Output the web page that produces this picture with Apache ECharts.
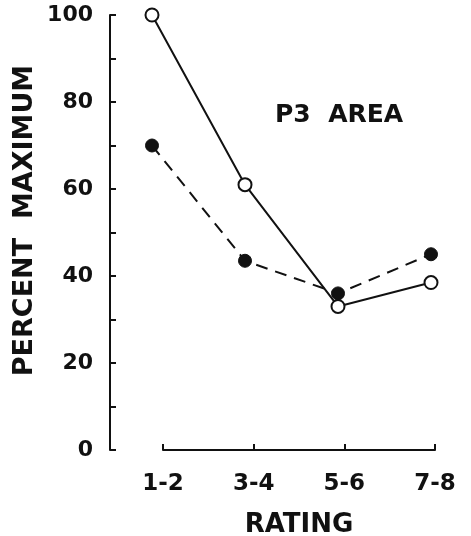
<!DOCTYPE html>
<html>
<head>
<meta charset="utf-8">
<script src="https://cdn.jsdelivr.net/npm/echarts@6/dist/echarts.min.js"></script>
<style>
  html, body { margin: 0; padding: 0; background: #fff; }
  #chart { width: 471px; height: 536px; }
</style>
</head>
<body>
<div id="chart"></div>
<script>
// rating groups on the x axis
const ratings = ['1-2', '3-4', '5-6', '7-8']
// open circles, solid line
const openValues = [100, 61, 33, 38.5]
// filled circles, dashed line
const filledValues = [70, 43.5, 36, 45]
const yTicks = [0, 20, 40, 60, 80, 100]

const font = 'DejaVu Sans'
const ink = '#111'
const chart = echarts.init(document.getElementById('chart'))

const option = {
  backgroundColor: '#fff',
  animation: false,
  title: {
    text: 'P3  AREA',
    left: 270,
    top: 98,
    textStyle: { fontFamily: font, fontWeight: 'bold', fontSize: 25, color: ink }
  },
  // grid 0 holds the data, grid 1 only the drawn rating axis (it sits a bit to the right in the original)
  grid: [
    { left: 152, right: 40, top: 15, bottom: 86, outerBoundsMode: 'none' },
    { left: 163, right: 36, top: 15, bottom: 86, outerBoundsMode: 'none' }
  ],
  xAxis: [
    {
      type: 'category',
      gridIndex: 0,
      boundaryGap: false,
      data: ratings,
      show: false
    },
    {
      type: 'category',
      gridIndex: 1,
      boundaryGap: false,
      data: ratings,
      name: 'RATING',
      nameLocation: 'middle',
      nameGap: 62,
      nameTextStyle: { fontFamily: font, fontWeight: 'bold', fontSize: 26, color: ink },
      axisLine: { lineStyle: { color: ink, width: 2 } },
      axisTick: { inside: true, length: 6, lineStyle: { color: ink, width: 2 } },
      axisLabel: {
        margin: 23,
        fontFamily: font,
        fontWeight: 'bold',
        fontSize: 23,
        color: ink
      },
      splitLine: { show: false }
    }
  ],
  yAxis: [
    {
      type: 'value',
      gridIndex: 0,
      min: yTicks[0],
      max: yTicks[yTicks.length - 1],
      interval: 20,
      offset: 42,
      name: 'PERCENT  MAXIMUM',
      nameLocation: 'middle',
      nameGap: 72,
      nameMoveOverlap: false,
      nameTextStyle: {
        fontFamily: font,
        fontWeight: 'bold',
        fontSize: 27,
        color: ink,
        padding: [0, 0, 0, 24]
      },
      axisLine: { show: true, lineStyle: { color: ink, width: 2 } },
      axisTick: { show: true, inside: true, length: 6, lineStyle: { color: ink, width: 2 } },
      minorTick: { show: true, splitNumber: 2, length: 6, lineStyle: { color: ink, width: 2 } },
      axisLabel: {
        margin: 17,
        fontFamily: font,
        fontWeight: 'bold',
        fontSize: 22,
        color: ink
      },
      splitLine: { show: false }
    },
    {
      type: 'value',
      gridIndex: 1,
      min: 0,
      max: 100,
      show: false
    }
  ],
  series: [
    {
      name: 'filled',
      type: 'line',
      xAxisIndex: 0,
      yAxisIndex: 0,
      data: filledValues,
      symbol: 'circle',
      symbolSize: 13,
      lineStyle: { color: ink, width: 2, type: [12, 8] },
      itemStyle: { color: ink, borderColor: ink, borderWidth: 1 }
    },
    {
      name: 'open',
      type: 'line',
      xAxisIndex: 0,
      yAxisIndex: 0,
      data: openValues,
      symbol: 'circle',
      symbolSize: 13,
      lineStyle: { color: ink, width: 2 },
      itemStyle: { color: '#fff', borderColor: ink, borderWidth: 2 }
    }
  ]
}

option && chart.setOption(option)
</script>
</body>
</html>
